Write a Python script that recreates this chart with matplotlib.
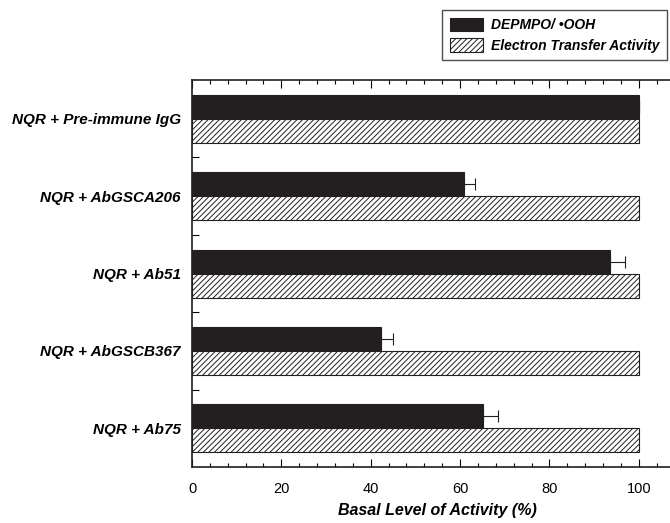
import numpy as np
import matplotlib
matplotlib.use('Agg')
from matplotlib import pyplot as plt
from matplotlib.ticker import MultipleLocator, FixedLocator

rc_fonts = {
    'xtick.direction': 'in',
    'ytick.direction': 'in',
    'font.family': ['Liberation Sans', 'DejaVu Sans'],
    'hatch.linewidth': 0.7,
}
matplotlib.rcParams.update(rc_fonts)

groups = ['NQR + Pre-immune IgG', 'NQR + AbGSCA206', 'NQR + Ab51',
          'NQR + AbGSCB367', 'NQR + Ab75']
depmpo = [100, 60.9, 93.6, 42.3, 65.2]
depmpo_err = [0, 2.5, 3.4, 2.7, 3.4]
electron = [100, 100, 100, 100, 100]

fig = plt.figure(figsize=(6.7, 5.23), dpi=100)
ax = fig.add_axes([0.2866, 0.107, 0.7334, 0.740])

y = np.arange(len(groups))
h = 0.31
ax.barh(y - h / 2, depmpo, height=h, color='#231f20', edgecolor='#231f20',
        linewidth=0.8, label='DEPMPO/ \u2022OOH',
        xerr=[np.zeros(len(groups)), depmpo_err],
        error_kw=dict(ecolor='#231f20', elinewidth=0.8, capsize=4, capthick=0.8))
ax.barh(y + h / 2, electron, height=h, color='white', edgecolor='#231f20',
        linewidth=0.8, hatch='//////', label='Electron Transfer Activity')

ax.set_xlim(0, 110)
ax.set_ylim(len(groups) - 0.5, -0.5)
ax.xaxis.set_major_locator(MultipleLocator(20))
ax.xaxis.set_minor_locator(MultipleLocator(4))
ax.tick_params(axis='x', which='major', length=6, width=0.8, top=True,
               labelsize=10.5, pad=11)
ax.tick_params(axis='x', which='minor', length=3, width=0.8, top=True)

ax.set_yticks(y)
ax.set_yticklabels(groups, fontsize=11, fontweight='bold', fontstyle='italic')
ax.yaxis.set_minor_locator(FixedLocator(y[:-1] + 0.5))
ax.tick_params(axis='y', which='major', length=0, pad=8)
ax.tick_params(axis='y', which='minor', length=5, width=0.8)

for s in ax.spines.values():
    s.set_linewidth(1.2)
    s.set_color('#231f20')

ax.set_xlabel('Basal Level of Activity (%)', fontsize=11.5, fontweight='bold',
              fontstyle='italic', labelpad=5)

leg = fig.legend(loc='upper left', bbox_to_anchor=(0.6597, 0.981),
                 prop=dict(size=10, weight='bold', style='italic'),
                 frameon=True, fancybox=False, edgecolor='#231f20',
                 handlelength=2.4, handleheight=1.1, handletextpad=0.6,
                 borderpad=0.55, labelspacing=0.45, borderaxespad=0)
leg.get_frame().set_linewidth(1.0)

fig.savefig('out.png', dpi=100)
